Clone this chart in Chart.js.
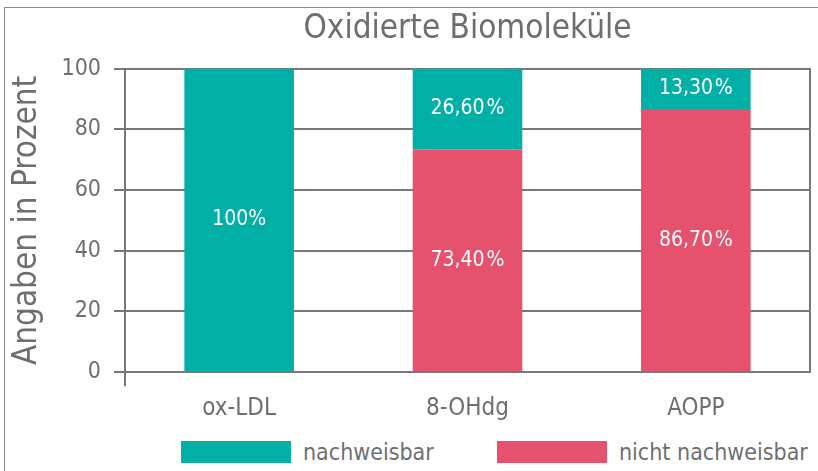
<!DOCTYPE html>
<html>
<head>
<meta charset="utf-8">
<script src="https://cdn.jsdelivr.net/npm/chart.js@4"></script>
<style>
  html, body { margin: 0; padding: 0; background: #fff; }
  #wrap { width: 818px; height: 471px; position: relative; overflow: hidden; }
  #chartBox { position: absolute; left: 0; top: 0; width: 818px; height: 439px; }
  #frame { position: absolute; left: 4px; top: 7px; right: -10px; bottom: -10px;
           border-left: 1.5px solid #8a8b8e; border-top: 1.5px solid #8a8b8e; }
  .lg { position: absolute; top: 441px; height: 22px; display: flex; align-items: center;
        font-family: 'DejaVu Sans Condensed', 'Liberation Sans', sans-serif; font-size: 23px; color: #6d6e71; }
  .lg span.box { display: inline-block; width: 110px; height: 22px; margin-right: 12px; }
</style>
</head>
<body>
<div id="wrap">
  <div id="frame"></div>
  <div id="chartBox"><canvas id="bioChart"></canvas></div>
  <div id="legend"></div>
</div>
<script>
const categories = ["ox-LDL", "8-OHdg", "AOPP"];
const nachweisbar = [100, 26.6, 13.3];
const nichtNachweisbar = [0, 73.4, 86.7];
const yTicks = [0, 20, 40, 60, 80, 100];

const FONT = "'DejaVu Sans Condensed', 'Liberation Sans', sans-serif";
const GREY = "#6d6e71";
const LINE = "#77787b";
const TEAL = "#00b0a7";
const RED = "#e6526e";

// format like "26,60 %"
function fmt(v) {
  if (v === 100) return "100%";
  return v.toFixed(2).replace(".", ",") + "\u200a%";
}

// white value labels in the middle of each segment
const segmentLabels = {
  id: "segmentLabels",
  afterDatasetsDraw(chart) {
    const ctx = chart.ctx;
    ctx.save();
    ctx.fillStyle = "#fff";
    ctx.font = "21px " + FONT;
    ctx.textAlign = "center";
    ctx.textBaseline = "middle";
    chart.data.datasets.forEach((ds, i) => {
      chart.getDatasetMeta(i).data.forEach((bar, j) => {
        const v = ds.data[j];
        if (!v) return;
        ctx.fillText(fmt(v), bar.x, (bar.y + bar.base) / 2);
      });
    });
    ctx.restore();
  }
};

const ctx = document.getElementById("bioChart").getContext("2d");
const chart = new Chart(ctx, {
  type: "bar",
  data: {
    labels: categories,
    datasets: [
      {
        label: "nicht nachweisbar",
        data: nichtNachweisbar,
        backgroundColor: RED,
        barPercentage: 0.48,
        categoryPercentage: 1
      },
      {
        label: "nachweisbar",
        data: nachweisbar,
        backgroundColor: TEAL,
        barPercentage: 0.48,
        categoryPercentage: 1
      }
    ]
  },
  options: {
    responsive: true,
    maintainAspectRatio: false,
    animation: false,
    layout: { padding: { left: 8, right: 0, top: 8, bottom: 8 } },
    scales: {
      x: {
        stacked: true,
        grid: {
          drawOnChartArea: false,
          tickLength: 14,
          lineWidth: 2,
          color: (c) => (c.index === 0 ? LINE : "transparent")
        },
        border: { color: LINE, width: 2 },
        ticks: { color: GREY, font: { family: FONT, size: 24 }, padding: 8 }
      },
      y: {
        stacked: true,
        min: 0,
        max: 100,
        afterBuildTicks: (s) => { s.ticks = yTicks.map((v) => ({ value: v })); },
        afterFit: (s) => { s.width = 117; },
        grid: { color: LINE, lineWidth: 2, tickLength: 11 },
        border: { color: LINE, width: 2 },
        ticks: { color: GREY, font: { family: FONT, size: 23 }, padding: 13 },
        title: {
          display: true,
          text: "Angaben in Prozent",
          color: GREY,
          font: { family: FONT, size: 33 },
          padding: { top: 0, bottom: 4 }
        }
      },
      y2: {
        position: "right",
        min: 0,
        max: 100,
        afterFit: (s) => { s.width = 8; },
        grid: { drawOnChartArea: false, drawTicks: false },
        border: { color: LINE, width: 2 },
        ticks: { display: false }
      }
    },
    plugins: {
      title: {
        display: true,
        fullSize: false,
        text: "Oxidierte Biomoleküle",
        color: GREY,
        font: { family: FONT, size: 33, weight: "normal" },
        padding: { top: 2, bottom: 19 }
      },
      legend: { display: false },
      tooltip: { enabled: false }
    }
  },
  plugins: [segmentLabels]
});

// legend below the canvas, teal item first
const legendEl = document.getElementById("legend");
const legendLeft = [181, 497];
[chart.data.datasets[1], chart.data.datasets[0]].forEach((ds, i) => {
  const item = document.createElement("div");
  item.className = "lg";
  item.style.left = legendLeft[i] + "px";
  item.innerHTML = '<span class="box" style="background:' + ds.backgroundColor + '"></span>' + ds.label;
  legendEl.appendChild(item);
});
</script>
</body>
</html>
